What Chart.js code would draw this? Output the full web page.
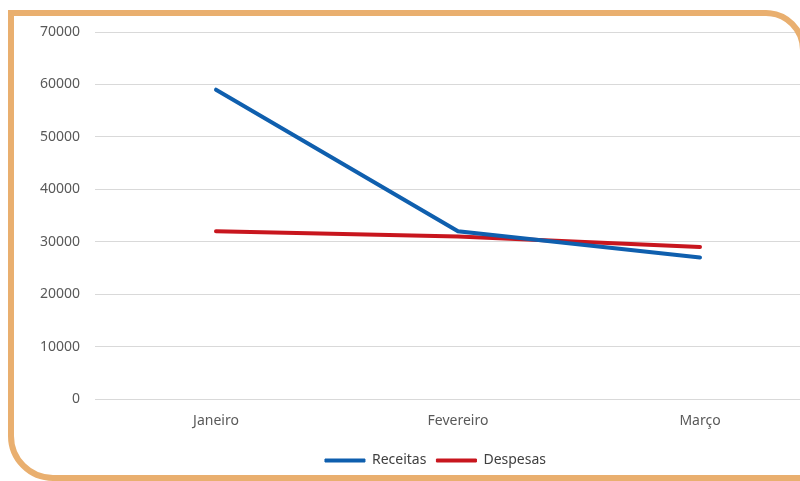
<!DOCTYPE html>
<html>
<head>
<meta charset="utf-8">
<script src="https://cdn.jsdelivr.net/npm/chart.js@4.4.0/dist/chart.umd.min.js"></script>
<style>
  html, body { margin: 0; padding: 0; background: #ffffff; overflow: hidden; width: 800px; height: 481px; }
  #wrap { position: absolute; left: 0; top: 0; width: 852px; height: 481px; }
  #frame { position: absolute; left: 8px; top: 10px; width: 786px; height: 459px;
           border: 6px solid #E9AF6F; border-radius: 0 40px 0 45px; pointer-events: none; }
</style>
</head>
<body>
<div id="wrap"><canvas id="c" width="852" height="481"></canvas></div>
<div id="frame"></div>
<script>
const categories = ["Janeiro", "Fevereiro", "Março"];
const receitas = [59000, 32000, 27000];
const despesas = [32000, 31000, 29000];
const seriesNames = ["Receitas", "Despesas"];
const yTicks = [0, 10000, 20000, 30000, 40000, 50000, 60000, 70000];

const BLUE = "#0F5FAE";
const RED = "#C8161E";
const FONT = "'Noto Sans', 'Open Sans', sans-serif";

const legendShift = {
  id: "legendShift",
  afterLayout(chart) {
    if (chart.legend) { chart.legend.left += 15; chart.legend.right += 15; }
  }
};

new Chart(document.getElementById("c"), {
  type: "line",
  data: {
    labels: categories,
    datasets: [
      { label: seriesNames[0], data: receitas, borderColor: BLUE, backgroundColor: BLUE,
        borderWidth: 4, pointRadius: 0, tension: 0, borderCapStyle: "round" },
      { label: seriesNames[1], data: despesas, borderColor: RED, backgroundColor: RED,
        borderWidth: 4, pointRadius: 0, tension: 0, borderCapStyle: "round" }
    ]
  },
  plugins: [legendShift],
  options: {
    responsive: false,
    animation: false,
    devicePixelRatio: 1,
    layout: { padding: { left: 20, right: 31, top: 32, bottom: 3.5 } },
    plugins: {
      tooltip: { enabled: false },
      legend: {
        position: "bottom",
        labels: {
          font: { family: FONT, size: 14 },
          color: "#404040",
          boxWidth: 40,
          boxHeight: 3,
          padding: 10,
          generateLabels(chart) {
            return chart.data.datasets.map((ds, i) => ({
              text: ds.label, fillStyle: ds.borderColor, strokeStyle: ds.borderColor,
              lineWidth: 1, hidden: false, datasetIndex: i, fontColor: "#404040"
            }));
          }
        }
      }
    },
    scales: {
      x: {
        offset: true,
        grid: { display: false, drawTicks: false },
        border: { display: false },
        ticks: { font: { family: FONT, size: 14 }, color: "#595959", padding: 14 },
        afterFit(scale) { scale.height = 44.5; }
      },
      y: {
        min: 0, max: 70000,
        afterBuildTicks(scale) { scale.ticks = yTicks.map(v => ({ value: v })); },
        grid: { color: "#D9D9D9", lineWidth: 1, drawTicks: false },
        border: { display: false },
        ticks: { font: { family: FONT, size: 14 }, color: "#595959", padding: 15,
                 callback: v => String(v) },
        afterFit(scale) { scale.width = 75; }
      }
    }
  }
});
</script>
</body>
</html>
